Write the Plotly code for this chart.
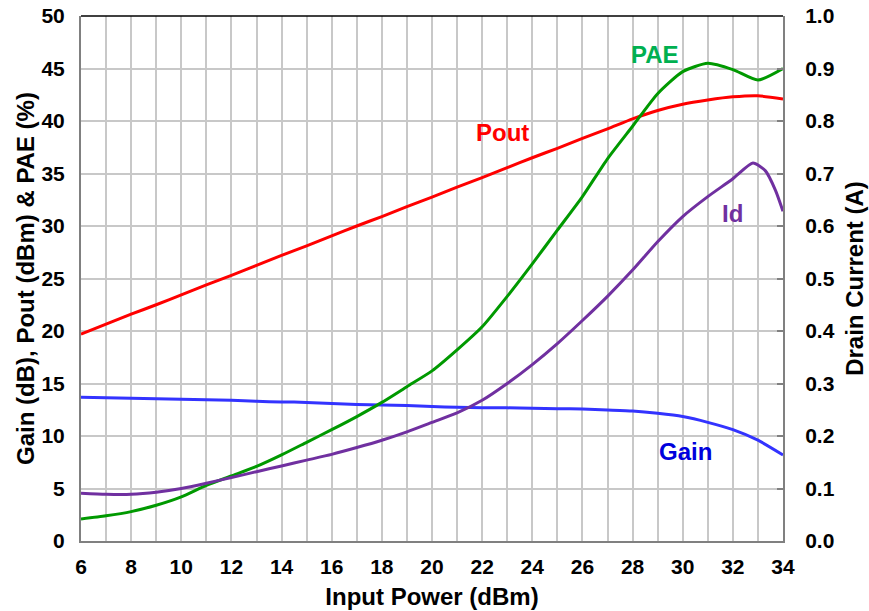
import plotly.graph_objects as go

input_power = list(range(6, 35))
pout = [19.7, 20.65, 21.6, 22.5, 23.45, 24.4, 25.3, 26.25, 27.2, 28.1, 29.05, 30.0, 30.9,
        31.85, 32.75, 33.7, 34.6, 35.55, 36.5, 37.4, 38.35, 39.25, 40.2, 41.0, 41.6,
        42.0, 42.3, 42.4, 42.1]
gain = [13.7, 13.65, 13.6, 13.55, 13.5, 13.45, 13.4, 13.3, 13.25, 13.2, 13.1, 13.0, 12.95,
        12.9, 12.8, 12.75, 12.7, 12.68, 12.65, 12.6, 12.57, 12.48, 12.38, 12.16, 11.85,
        11.3, 10.6, 9.6, 8.2]
pae = [2.1, 2.4, 2.8, 3.4, 4.2, 5.3, 6.2, 7.1, 8.2, 9.4, 10.6, 11.85, 13.2, 14.7, 16.2,
       18.2, 20.4, 23.3, 26.4, 29.6, 32.8, 36.4, 39.5, 42.6, 44.7, 45.5, 44.9, 43.9, 45.0]
id_x = [6, 7, 8, 9, 10, 11, 12, 13, 14, 15, 16, 17, 18, 19, 20, 21, 22, 23, 24, 25, 26,
        27, 28, 29, 30, 31, 32, 32.8, 33.3, 33.7, 34]
id_a = [0.091, 0.089, 0.089, 0.093, 0.100, 0.110, 0.121, 0.132, 0.143, 0.154, 0.165,
        0.178, 0.192, 0.208, 0.226, 0.244, 0.268, 0.300, 0.336, 0.376, 0.420, 0.466,
        0.516, 0.570, 0.618, 0.656, 0.690, 0.720, 0.705, 0.668, 0.628]

x_ticks = list(range(6, 35, 2))
left_ticks = list(range(0, 51, 5))
right_ticks = [i / 10 for i in range(0, 11)]
right_tick_text = [f"{v:.1f}" for v in right_ticks]

FONT = "Liberation Sans, Arial, sans-serif"
TICK = 21
TITLE = 24

fig = go.Figure()
fig.add_trace(go.Scatter(x=input_power, y=pout, mode="lines", name="Pout",
                         line=dict(color="#ff0000", width=3, shape="spline", smoothing=0.6)))
fig.add_trace(go.Scatter(x=input_power, y=gain, mode="lines", name="Gain",
                         line=dict(color="#3333ff", width=3, shape="spline", smoothing=0.6)))
fig.add_trace(go.Scatter(x=input_power, y=pae, mode="lines", name="PAE",
                         line=dict(color="#009900", width=3, shape="spline", smoothing=0.6)))
fig.add_trace(go.Scatter(x=id_x, y=id_a, mode="lines", name="Id", yaxis="y2",
                         line=dict(color="#7030a0", width=3, shape="spline", smoothing=0.6)))

labels = [("PAE", 28.9, 46.3, "#00b050"), ("Pout", 22.8, 38.9, "#ff0000"),
          ("Id", 32.0, 31.2, "#7030a0"), ("Gain", 30.1, 8.5, "#0000dd")]
for txt, lx, ly, col in labels:
    fig.add_annotation(x=lx, y=ly, xref="x", yref="y", text=f"<b>{txt}</b>", showarrow=False,
                       font=dict(family=FONT, size=24, color=col))

fig.add_shape(type="line", xref="paper", yref="paper", x0=0, x1=1, y0=1, y1=1,
              line=dict(color="#000000", width=1.5))

fig.update_layout(
    width=869, height=611,
    margin=dict(l=81, r=86, t=16, b=70),
    paper_bgcolor="white", plot_bgcolor="white",
    showlegend=False,
    font=dict(family=FONT, color="#000000"),
    xaxis=dict(range=[6, 34], tickvals=x_ticks, ticktext=[str(v) for v in x_ticks],
               automargin=False,
               showgrid=True, gridcolor="#c8c8c8", gridwidth=1.5,
               minor=dict(dtick=1, tick0=6, showgrid=True, gridcolor="#c8c8c8", gridwidth=1.5),
               showline=True, linecolor="#808080", linewidth=2, mirror=False,
               ticks="", zeroline=False, ticklabelstandoff=6,
               tickfont=dict(family=FONT, size=TICK, color="#000000", weight="bold"),
               title=dict(text="<b>Input Power (dBm)</b>", standoff=11,
                          font=dict(family=FONT, size=TITLE, color="#000000"))),
    yaxis=dict(range=[0, 50], tickvals=left_ticks, ticktext=[str(v) for v in left_ticks],
               automargin=False,
               showgrid=True, gridcolor="#c8c8c8", gridwidth=1.5,
               showline=True, linecolor="#808080", linewidth=2, ticks="", zeroline=False,
               tickfont=dict(family=FONT, size=TICK, color="#000000", weight="bold"),
               ticklabelstandoff=10,
               title=dict(text="<b>Gain (dB), Pout (dBm) & PAE (%)</b>", standoff=0,
                          font=dict(family=FONT, size=TITLE, color="#000000"))),
    yaxis2=dict(range=[0, 1], overlaying="y", side="right", tickvals=right_ticks,
                ticktext=right_tick_text, showgrid=False, automargin=False,
                showline=True, linecolor="#808080", linewidth=2,
                ticks="inside", ticklen=6, tickcolor="#808080", tickwidth=1.5, zeroline=False,
                tickfont=dict(family=FONT, size=TICK, color="#000000", weight="bold"),
                ticklabelstandoff=16,
                title=dict(text="<b>Drain Current (A)</b>", standoff=12,
                           font=dict(family=FONT, size=TITLE, color="#000000"))),
)

fig.write_html("out.html", config={"displayModeBar": False},
               post_script="document.body.style.margin='0';")
